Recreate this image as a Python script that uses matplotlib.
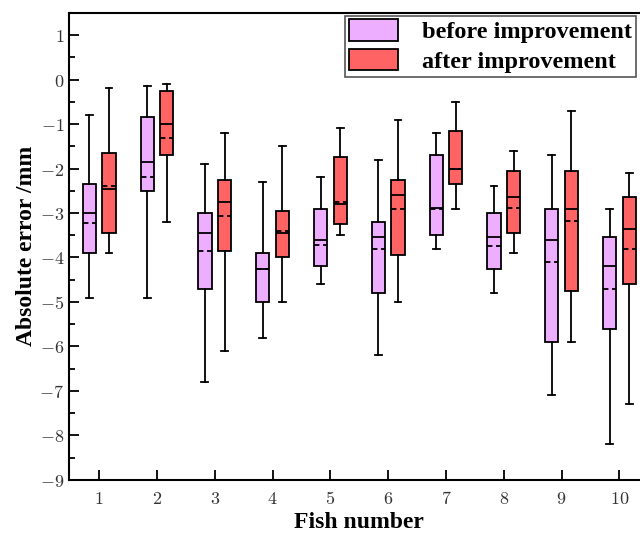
import numpy as np
import matplotlib.pyplot as plt
from matplotlib.patches import Patch
from matplotlib.ticker import MultipleLocator, FuncFormatter

plt.rcParams['mathtext.fontset'] = 'cm'

fish = np.arange(1, 11)

# before improvement: whisker low, Q1, median, Q3, whisker high, mean
b_lo = [-4.9, -4.9, -6.8, -5.8, -4.6, -6.2, -3.8, -4.8, -7.1, -8.2]
b_q1 = [-3.9, -2.5, -4.7, -5.0, -4.2, -4.8, -3.5, -4.25, -5.9, -5.6]
b_med = [-3.0, -1.86, -3.45, -4.25, -3.6, -3.55, -2.88, -3.55, -3.6, -4.2]
b_q3 = [-2.35, -0.85, -3.0, -3.9, -2.9, -3.2, -1.7, -3.0, -2.9, -3.55]
b_hi = [-0.8, -0.15, -1.9, -2.3, -2.2, -1.8, -1.2, -2.4, -1.7, -2.9]
b_mean = [-3.22, -2.19, -3.85, -4.25, -3.71, -3.82, -2.9, -3.75, -4.11, -4.71]

# after improvement
a_lo = [-3.9, -3.2, -6.1, -5.0, -3.5, -5.0, -2.9, -3.9, -5.9, -7.3]
a_q1 = [-3.44, -1.7, -3.85, -4.0, -3.24, -3.95, -2.34, -3.45, -4.75, -4.6]
a_med = [-2.45, -1.0, -2.75, -3.45, -2.8, -2.6, -2.0, -2.65, -2.9, -3.35]
a_q3 = [-1.65, -0.25, -2.25, -2.95, -1.75, -2.25, -1.15, -2.06, -2.06, -2.65]
a_hi = [-0.2, -0.1, -1.2, -1.5, -1.1, -0.9, -0.5, -1.6, -0.7, -2.1]
a_mean = [-2.4, -1.32, -3.07, -3.4, -2.75, -2.92, -2.0, -2.88, -3.18, -3.8]

labels = ['before improvement', 'after improvement']
colors = ['#EEAEFF', '#FF6363']


def make_stats(lo, q1, med, q3, hi, mean):
    return [dict(whislo=lo[i], q1=q1[i], med=med[i], q3=q3[i], whishi=hi[i],
                 mean=mean[i], fliers=[]) for i in range(len(lo))]


fig = plt.figure(figsize=(6.4, 5.35), dpi=100)
ax = fig.add_axes([0.108, 0.103, 0.905, 0.873])

groups = [make_stats(b_lo, b_q1, b_med, b_q3, b_hi, b_mean),
          make_stats(a_lo, a_q1, a_med, a_q3, a_hi, a_mean)]
offsets = [-0.17, 0.17]

for stats, off, c in zip(groups, offsets, colors):
    ax.bxp(stats, positions=fish + off, widths=0.23, capwidths=0.12,
           patch_artist=True, showmeans=True, meanline=True, showfliers=False,
           boxprops=dict(facecolor=c, edgecolor='black', linewidth=1.3),
           medianprops=dict(color='black', linewidth=1.3),
           meanprops=dict(color='black', linewidth=1.3, linestyle=(0, (3, 2))),
           whiskerprops=dict(color='black', linewidth=1.3),
           capprops=dict(color='black', linewidth=1.3))

ax.set_xlim(0.48, 10.5)
ax.set_ylim(-9, 1.5)
ax.set_xticks(fish)
ax.set_xticklabels([f'${i}$' for i in fish])
ax.yaxis.set_major_locator(MultipleLocator(1))
ax.yaxis.set_minor_locator(MultipleLocator(0.5))
ax.yaxis.set_major_formatter(FuncFormatter(lambda v, p: f'${int(round(v))}$'))
ax.tick_params(axis='both', which='major', direction='in', length=7, width=1.3,
               labelsize=13, colors='black', labelcolor='#333333')
ax.tick_params(axis='y', which='minor', direction='in', length=4, width=1.3)
ax.tick_params(axis='x', pad=7)
ax.spines['right'].set_visible(False)
for s in ['left', 'bottom', 'top']:
    ax.spines[s].set_linewidth(1.5)

ax.set_xlabel('Fish number', fontsize=17, fontweight='bold',
              family='Liberation Serif', labelpad=3)
ax.set_ylabel('Absolute error /mm', fontsize=17, fontweight='bold',
              family='Liberation Serif', labelpad=2)

handles = [Patch(facecolor=c, edgecolor='black', linewidth=1.3) for c in colors]
leg = fig.legend(handles, labels, loc='upper right', bbox_to_anchor=(0.993, 0.971),
                 borderaxespad=0, fancybox=False, edgecolor='#555555', framealpha=1,
                 handlelength=2.0, handleheight=1.0, handletextpad=1.0,
                 borderpad=0.15, labelspacing=0.22,
                 prop=dict(family='Liberation Serif', weight='bold', size=17.5))
leg.get_frame().set_linewidth(1.2)

plt.savefig('out.png', dpi=100)
